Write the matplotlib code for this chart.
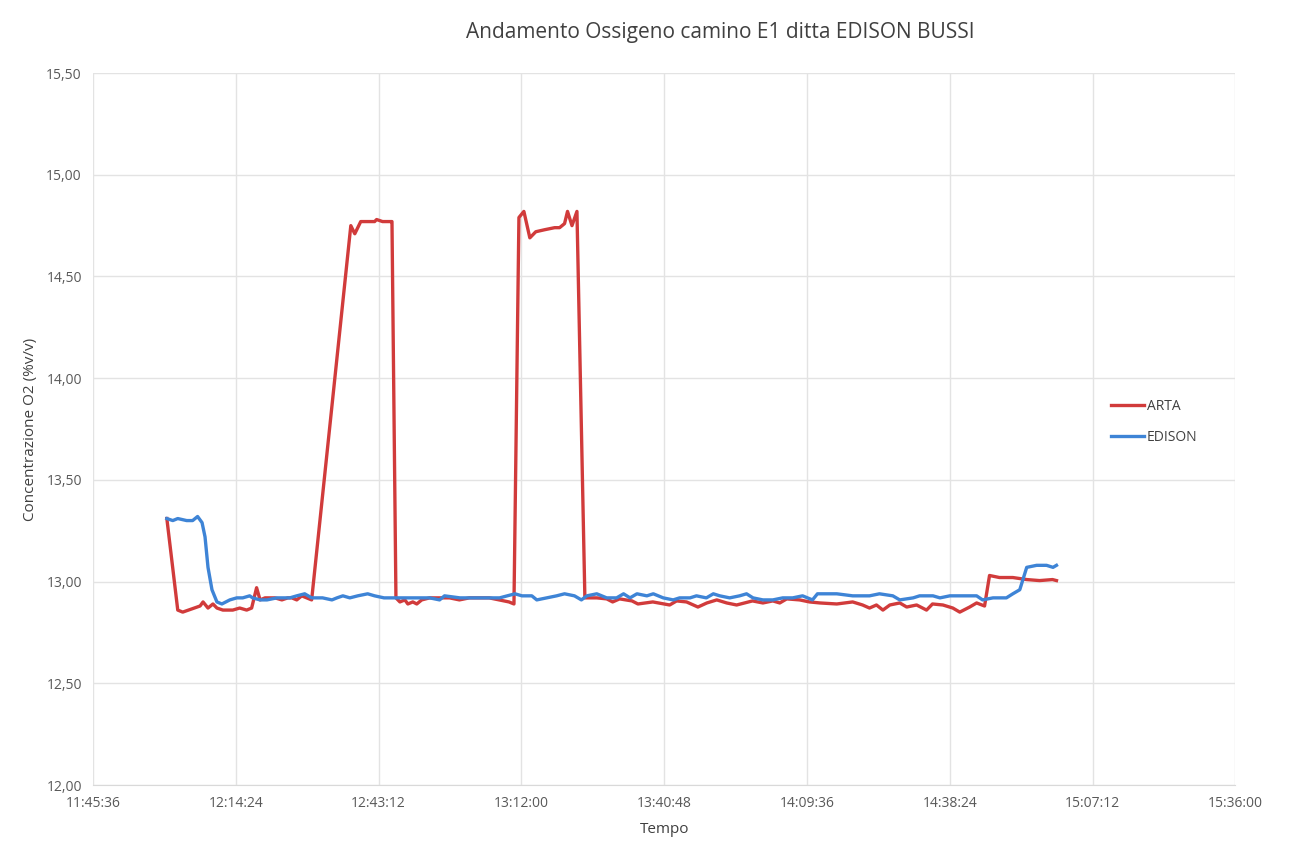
import matplotlib.pyplot as plt
from matplotlib.ticker import FuncFormatter, MultipleLocator, FixedLocator

plt.rcParams['font.family'] = ['Open Sans', 'DejaVu Sans']

# minuti dalle 12:00:30
arta_min = [0, 2.2, 3.2, 6.7, 7.3, 8.3, 9.3, 10.1, 11.3, 13.3, 14.7, 16.1, 17.1, 18.1,
            18.8, 19.8, 20.8, 21.8, 23.2, 24.4, 25.2, 26.2, 27.2, 28.2, 29.2,
            37.1, 37.9, 39.1, 40.5, 41.9, 42.3, 43.5, 45.0, 45.4,
            46.2, 47.0, 48.0, 48.6, 49.6, 50.4, 51.4, 53, 55, 57, 59, 61, 63, 65, 67, 69, 70,
            71, 72, 73.2, 74.4, 76.2, 78.2, 79.2, 80.2, 80.8, 81.7, 82.7,
            84.3, 86.7, 88.7, 89.9, 91.3, 93.8, 95.0, 98.0, 101.4, 102.8, 104.8, 107.1,
            108.9, 110.9, 112.9, 114.9, 118.1, 120.2, 122.2, 123.6, 125.0, 127.6, 129.6,
            131.7, 135.1, 138.3, 140.3, 141.7, 143.1, 144.4, 145.8, 147.8, 149.2, 151.2,
            153.2, 154.4, 156.5, 158.5, 159.9, 161.9, 163.3, 164.9,
            165.9, 167.9, 170.6, 173.4, 176.0, 178.6, 179.4]
arta_val = [13.31, 12.86, 12.85, 12.88, 12.90, 12.87, 12.89, 12.87, 12.86, 12.86, 12.87, 12.86, 12.87, 12.97,
            12.91, 12.92, 12.92, 12.92, 12.91, 12.92, 12.92, 12.91, 12.93, 12.92, 12.91,
            14.75, 14.71, 14.77, 14.77, 14.77, 14.78, 14.77, 14.77, 14.77,
            12.92, 12.90, 12.91, 12.89, 12.90, 12.89, 12.91, 12.92, 12.92, 12.92, 12.91, 12.92, 12.92, 12.92, 12.91, 12.90, 12.89,
            14.79, 14.82, 14.69, 14.72, 14.73, 14.74, 14.74, 14.76, 14.82, 14.75, 14.82,
            12.92, 12.92, 12.915, 12.90, 12.915, 12.905, 12.89, 12.90, 12.885, 12.905, 12.90, 12.875,
            12.895, 12.91, 12.895, 12.885, 12.905, 12.895, 12.905, 12.895, 12.915, 12.91, 12.90,
            12.895, 12.89, 12.90, 12.885, 12.87, 12.885, 12.86, 12.885, 12.895, 12.875, 12.885,
            12.86, 12.89, 12.885, 12.87, 12.85, 12.875, 12.895, 12.88,
            13.03, 13.02, 13.02, 13.01, 13.005, 13.01, 13.005]

edison_min = [0, 1.2, 2.2, 4.0, 5.2, 6.2, 7.1, 7.7, 8.3, 9.1, 10.1, 11.1, 12.7, 14.1, 15.3,
              16.7, 17.3, 18.8, 20.2, 22.2, 24.8, 26.2, 27.8, 29.2, 31.4, 33.3, 34.3, 35.5,
              36.9, 38.5, 40.5, 41.9, 43.8, 45.4, 47.0, 49.0, 51.0, 53.0, 55.0, 56.0, 59.1,
              63.1, 67.1, 70.2, 71.6, 73.6, 74.6, 76.6, 78.6, 80.2, 82.2, 83.6, 84.7, 86.7,
              88.7, 90.7, 92.1, 93.4, 94.8, 96.8, 98.1, 100.1, 102.1, 103.4, 105.5, 106.8,
              108.8, 110.2, 111.5, 113.5, 115.5, 116.9, 118.2, 120.2, 122.2, 124.2, 126.2,
              128.2, 130.2, 131.2, 133.7, 135.1, 138.3, 141.7, 143.7, 146.4, 147.8, 150.5,
              151.8, 154.5, 155.9, 157.9, 160.6, 163.3, 164.5, 166.6, 169.3, 170.6, 172.0,
              173.4, 175.4, 177.4, 178.7, 179.4]
edison_val = [13.31, 13.30, 13.31, 13.30, 13.30, 13.32, 13.29, 13.22, 13.07, 12.96, 12.90, 12.89, 12.91, 12.92, 12.92,
              12.93, 12.92, 12.91, 12.91, 12.92, 12.92, 12.93, 12.94, 12.92, 12.92, 12.91, 12.92, 12.93,
              12.92, 12.93, 12.94, 12.93, 12.92, 12.92, 12.92, 12.92, 12.92, 12.92, 12.91, 12.93, 12.92,
              12.92, 12.92, 12.94, 12.93, 12.93, 12.91, 12.92, 12.93, 12.94, 12.93, 12.91, 12.93, 12.94,
              12.92, 12.92, 12.94, 12.92, 12.94, 12.93, 12.94, 12.92, 12.91, 12.92, 12.92, 12.93,
              12.92, 12.94, 12.93, 12.92, 12.93, 12.94, 12.92, 12.91, 12.91, 12.92, 12.92,
              12.93, 12.91, 12.94, 12.94, 12.94, 12.93, 12.93, 12.94, 12.93, 12.91, 12.92,
              12.93, 12.93, 12.92, 12.93, 12.93, 12.93, 12.91, 12.92, 12.92, 12.94, 12.96,
              13.07, 13.08, 13.08, 13.07, 13.08]

t_start = 12 * 3600 + 30  # 12:00:30 in secondi
arta_t = [t_start + m * 60 for m in arta_min]
edison_t = [t_start + m * 60 for m in edison_min]

x_min = 11 * 3600 + 45 * 60 + 36
x_ticks = [x_min + i * 1728 for i in range(9)]


def hms(x, pos):
    x = int(round(x))
    return '%d:%02d:%02d' % (x // 3600, (x % 3600) // 60, x % 60)


fig = plt.figure(figsize=(12.91, 8.43), dpi=100)
ax = fig.add_axes([0.072, 0.0688, 0.885, 0.8445])

ax.plot(arta_t, arta_val, color='#d13b3b', linewidth=2.4, label='ARTA')
ax.plot(edison_t, edison_val, color='#3e84d6', linewidth=2.4, label='EDISON')

ax.set_xlim(x_ticks[0], x_ticks[-1])
ax.set_ylim(12, 15.5)
ax.xaxis.set_major_locator(FixedLocator(x_ticks))
ax.yaxis.set_major_locator(MultipleLocator(0.5))
ax.xaxis.set_major_formatter(FuncFormatter(hms))
ax.yaxis.set_major_formatter(FuncFormatter(lambda v, p: ('%.2f' % v).replace('.', ',')))

ax.grid(True, color='#e3e3e3', linewidth=1)
ax.set_axisbelow(True)
for s in ['top', 'right', 'left']:
    ax.spines[s].set_visible(False)
ax.spines['bottom'].set_color('#d9d9d9')
ax.tick_params(length=0, labelsize=10, colors='#595959', pad=8)

fig.text(0.558, 0.961, 'Andamento Ossigeno camino E1 ditta EDISON BUSSI', fontsize=15,
         color='#404040', ha='center', va='center')
ax.set_xlabel('Tempo', fontsize=11, color='#404040', labelpad=8)
ax.set_ylabel('Concentrazione O2 (%v/v)', fontsize=11, color='#404040', labelpad=6)

ax.legend(loc='center left', bbox_to_anchor=(0.88, 0.51), frameon=False, fontsize=10,
          handlelength=2.4, handletextpad=0.2, labelspacing=1.2, labelcolor='#404040')

fig.savefig('out.png', dpi=100, facecolor='white')
